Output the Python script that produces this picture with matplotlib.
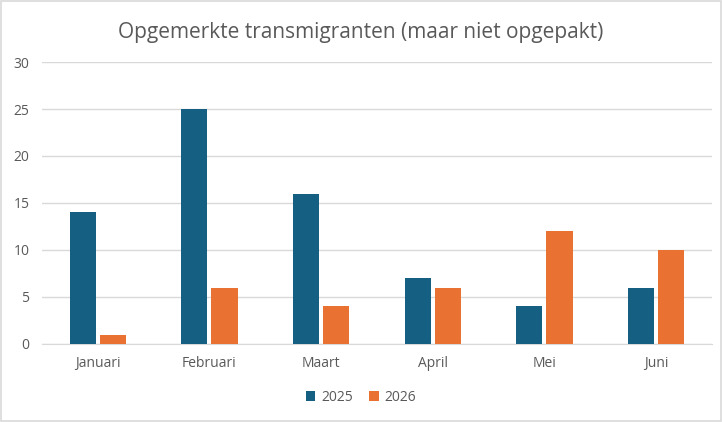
import matplotlib
matplotlib.use('agg')
import matplotlib.pyplot as plt
import numpy as np

months = ['Januari', 'Februari', 'Maart', 'April', 'Mei', 'Juni']
values_2025 = [14, 25, 16, 7, 4, 6]
values_2026 = [1, 6, 4, 6, 12, 10]

plt.rcParams['font.family'] = ['Open Sans', 'DejaVu Sans']

fig = plt.figure(figsize=(7.22, 4.22), dpi=100)
ax = fig.add_axes([0.058, 0.185, 0.928, 0.668])

x = np.arange(len(months))
w = 0.235
off = 0.135
ax.bar(x - off, values_2025, w, color='#156082', label='2025', zorder=3)
ax.bar(x + off, values_2026, w, color='#E97132', label='2026', zorder=3)

ax.set_xlim(-0.5, len(months) - 0.5)
ax.set_ylim(0, 30)
ax.set_yticks(range(0, 31, 5))
ax.set_xticks(x)
ax.set_xticklabels(months)
ax.grid(axis='y', color='#D9D9D9', linewidth=1, zorder=0)
for s in ['top', 'right', 'left']:
    ax.spines[s].set_visible(False)
ax.spines['bottom'].set_color('#D9D9D9')
ax.tick_params(length=0, labelsize=10, colors='#595959', pad=9)

fig.suptitle('Opgemerkte transmigranten (maar niet opgepakt)', x=0.5, y=0.948,
             fontsize=15, color='#595959')
fig.legend(loc='center', bbox_to_anchor=(0.5, 0.058), ncol=2, frameon=False,
           fontsize=10, handlelength=0.7, handleheight=0.7, handletextpad=0.4,
           columnspacing=1.2, labelcolor='#595959')

fig.patches.append(plt.Rectangle((0.002, 0.003), 0.996, 0.994, transform=fig.transFigure,
                                 fill=False, edgecolor='#D9D9D9', linewidth=1.2))

fig.savefig('out.png', dpi=100)
